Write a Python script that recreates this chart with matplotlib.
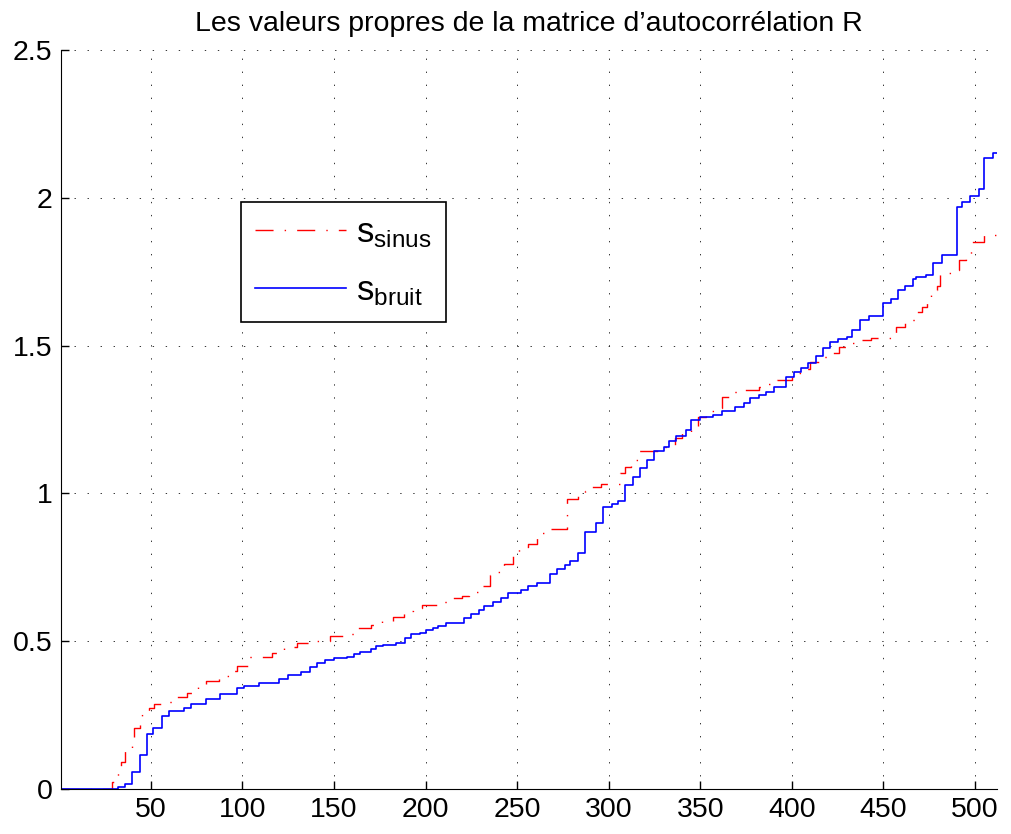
import matplotlib
matplotlib.use('Agg')
import matplotlib.pyplot as plt
import numpy as np

plt.rcParams['font.family'] = ['Liberation Sans', 'DejaVu Sans']
plt.rcParams['mathtext.fontset'] = 'custom'
plt.rcParams['mathtext.rm'] = 'Liberation Sans'
plt.rcParams['mathtext.it'] = 'Liberation Sans'

# sorted eigenvalues, stored as (first index of step, level)
bruit_idx = [1, 32, 36, 40, 44, 48, 51, 56, 60, 68, 72, 80, 88, 97, 101, 109,
             120, 125, 132, 137, 141, 145, 150, 157, 161, 164, 170, 173, 177,
             184, 189, 192, 197, 200, 204, 207, 211, 221, 225, 229, 232, 237,
             241, 245, 252, 256, 261, 268, 272, 276, 279, 283, 287, 293, 297,
             302, 305, 309, 313, 317, 321, 325, 330, 333, 337, 342, 345, 350,
             357, 362, 369, 374, 377, 382, 386, 390, 397, 401, 405, 409, 413,
             417, 421, 425, 430, 433, 437, 442, 450, 454, 458, 462, 466, 468,
             473, 477, 482, 490, 493, 497, 502, 505, 510]
bruit_val = [0.0, 0.008, 0.017, 0.059, 0.115, 0.186, 0.207, 0.247, 0.264,
             0.275, 0.288, 0.303, 0.320, 0.340, 0.348, 0.358, 0.372, 0.386,
             0.397, 0.414, 0.427, 0.436, 0.442, 0.448, 0.456, 0.464, 0.473,
             0.485, 0.488, 0.495, 0.510, 0.524, 0.529, 0.538, 0.543, 0.551,
             0.560, 0.577, 0.592, 0.606, 0.619, 0.634, 0.647, 0.662, 0.673,
             0.687, 0.698, 0.726, 0.743, 0.758, 0.770, 0.800, 0.870, 0.901,
             0.955, 0.963, 0.975, 1.028, 1.057, 1.085, 1.113, 1.143, 1.158,
             1.177, 1.194, 1.214, 1.248, 1.257, 1.265, 1.280, 1.291, 1.305,
             1.322, 1.333, 1.344, 1.360, 1.395, 1.412, 1.423, 1.440, 1.465,
             1.491, 1.513, 1.521, 1.528, 1.553, 1.587, 1.601, 1.643, 1.657,
             1.688, 1.703, 1.724, 1.733, 1.739, 1.780, 1.806, 1.970, 1.987,
             2.006, 2.029, 2.134, 2.150]

sinus_idx = [1, 29, 32, 34, 36, 40, 41, 44, 45, 49, 52, 59, 63, 70, 76, 80,
             87, 94, 97, 103, 116, 123, 130, 140, 148, 155, 161, 170, 176, 182,
             188, 193, 198, 208, 214, 220, 224, 229, 235, 238, 243, 248, 251,
             256, 261, 268, 277, 283, 287, 290, 296, 306, 309, 312, 316, 327,
             336, 340, 345, 349, 353, 358, 362, 366, 372, 382, 387, 392, 400,
             405, 410, 416, 421, 426, 433, 438, 443, 454, 457, 462, 468, 471,
             474, 476, 479, 481, 487, 491, 495, 498, 505]
sinus_val = [0.0, 0.025, 0.062, 0.090, 0.132, 0.163, 0.207, 0.240, 0.258,
             0.275, 0.288, 0.295, 0.312, 0.326, 0.344, 0.366, 0.382, 0.400,
             0.416, 0.445, 0.459, 0.479, 0.493, 0.502, 0.519, 0.523, 0.546,
             0.555, 0.569, 0.581, 0.603, 0.613, 0.622, 0.634, 0.645, 0.653,
             0.667, 0.687, 0.724, 0.735, 0.761, 0.803, 0.818, 0.829, 0.865,
             0.879, 0.980, 1.000, 1.009, 1.023, 1.032, 1.070, 1.090, 1.113,
             1.145, 1.156, 1.189, 1.203, 1.220, 1.257, 1.279, 1.290, 1.327,
             1.344, 1.350, 1.361, 1.370, 1.384, 1.406, 1.420, 1.446, 1.463,
             1.476, 1.494, 1.508, 1.519, 1.525, 1.536, 1.562, 1.587, 1.615,
             1.632, 1.650, 1.688, 1.703, 1.747, 1.756, 1.790, 1.795, 1.852,
             1.874]

N = 512

fig = plt.figure(figsize=(10.12, 8.34), dpi=100)
ax = fig.add_axes([0.0603, 0.054, 0.9249, 0.886])

ax.step(sinus_idx + [N], sinus_val + [sinus_val[-1]], where='post',
        color='#ff0000', lw=1.0, dashes=(13, 8, 1, 8), label=r'$\mathrm{s_{sinus}}$')
ax.step(bruit_idx + [N], bruit_val + [bruit_val[-1]], where='post',
        color='#0000ff', lw=1.2, label=r'$\mathrm{s_{bruit}}$')

ax.set_xlim(1, N)
ax.set_ylim(0, 2.5)
ax.set_xticks(np.arange(50, 501, 50))
ax.set_yticks([0, 0.5, 1, 1.5, 2, 2.5])
ax.set_yticklabels(['0', '0.5', '1', '1.5', '2', '2.5'])

ax.spines['top'].set_visible(False)
ax.spines['right'].set_visible(False)
ax.tick_params(direction='in', length=6, width=1, labelsize=20.5, pad=6)
ax.grid(True, color='#333333', lw=0.7, linestyle=(0, (1.4, 12)))

ax.set_title('Les valeurs propres de la matrice d\u2019autocorr\u00e9lation R',
             fontsize=20.5, pad=14)

leg = ax.legend(loc='upper left', bbox_to_anchor=(0.192, 0.795), fontsize=25,
                handlelength=2.6, handletextpad=0.3, labelspacing=0.7,
                borderpad=0.42, fancybox=False, framealpha=1, borderaxespad=0)
leg.get_frame().set_edgecolor('black')
leg.get_frame().set_linewidth(1.2)

plt.savefig('out.png', dpi=100)
